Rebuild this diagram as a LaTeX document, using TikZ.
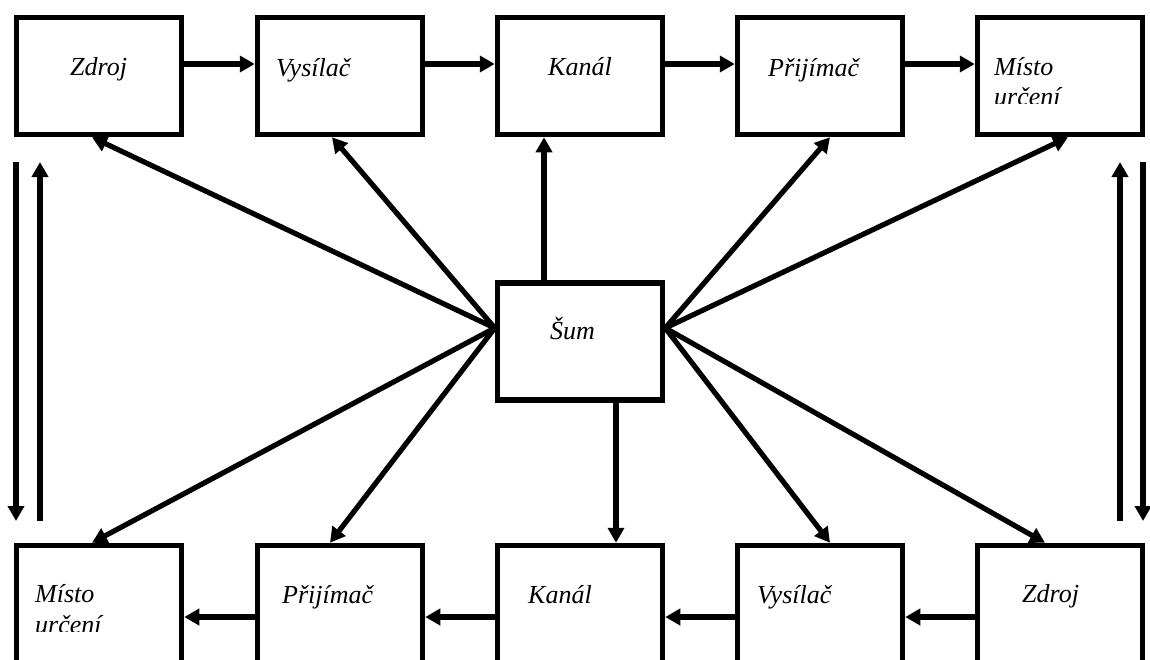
\documentclass[tikz,border=0pt]{standalone}
\usepackage{fontspec}
\setmainfont{Liberation Serif}
\usetikzlibrary{arrows.meta}

\begin{document}
\begin{tikzpicture}[x=1pt,y=-1pt,
  box/.style={draw, line width=5.5pt, rectangle, inner sep=0pt,
              minimum width=165pt, minimum height=117pt},
  lbl/.style={anchor=base west, inner sep=0pt,
              font=\fontsize{26}{30}\selectfont\itshape},
  arr/.style={line width=5.2pt, -{Triangle[length=15pt,width=16pt]}}]

\useasboundingbox (0,0) rectangle (1150,659);
\fill[white] (0,0) rectangle (1150,659);
\clip (0,0) rectangle (1150,659);

% upper chain
\node[box] (z1) at (99,76)  {};
\node[box] (v1) at (340,76) {};
\node[box] (k1) at (580,76) {};
\node[box] (p1) at (820,76) {};
\node[box] (m1) at (1060,76) {};

% lower chain (reversed)
\node[box] (m2) at (99,604)  {};
\node[box] (p2) at (340,604) {};
\node[box] (k2) at (580,604) {};
\node[box] (v2) at (820,604) {};
\node[box] (z2) at (1060,604) {};

% noise source
\node[box] (sum) at (580,341.5) {};

% labels
\node[lbl] (tz1) at (70,75)  {Zdroj};
\node[lbl] (tv1) at (276,76) {Vysílač};
\node[lbl] (tk1) at (548,75) {Kanál};
\node[lbl] (tp1) at (768,76) {Přijímač};
\node[lbl] (tm1) at (994,75) {Místo};
\begin{scope}
  \clip (980,80) rectangle (1140,103);
  \node[lbl] (tu1) at (994,105.5) {určení};
\end{scope}

\node[lbl] (tm2) at (35,602)  {Místo};
\begin{scope}
  \clip (20,608) rectangle (180,631.5);
  \node[lbl] (tu2) at (35,633.5) {určení};
\end{scope}
\node[lbl] (tp2) at (282,603) {Přijímač};
\node[lbl] (tk2) at (528,603) {Kanál};
\node[lbl] (tv2) at (757,603) {Vysílač};
\node[lbl] (tz2) at (1022,602) {Zdroj};

\node[lbl] (ts) at (550,339.5) {Šum};

% chain arrows
\draw[arr] ([yshift=12pt]z1.east) -- ([yshift=12pt]v1.west);
\draw[arr] ([yshift=12pt]v1.east) -- ([yshift=12pt]k1.west);
\draw[arr] ([yshift=12pt]k1.east) -- ([yshift=12pt]p1.west);
\draw[arr] ([yshift=12pt]p1.east) -- ([yshift=12pt]m1.west);

\draw[arr] ([yshift=-13pt]z2.west) -- ([yshift=-13pt]v2.east);
\draw[arr] ([yshift=-13pt]v2.west) -- ([yshift=-13pt]k2.east);
\draw[arr] ([yshift=-13pt]k2.west) -- ([yshift=-13pt]p2.east);
\draw[arr] ([yshift=-13pt]p2.west) -- ([yshift=-13pt]m2.east);

% noise arrows
\coordinate (sl) at ([yshift=13.5pt]sum.west);
\coordinate (sr) at ([yshift=13.5pt]sum.east);
\draw[arr] (sl) -- ([xshift=-7pt]z1.south);
\draw[arr] (sl) -- ([xshift=-8pt]v1.south);
\draw[arr] ([xshift=-36pt]sum.north) -- ([xshift=-36pt]k1.south);
\draw[arr] (sr) -- ([xshift=10pt]p1.south);
\draw[arr] (sr) -- ([xshift=8pt]m1.south);
\draw[arr] (sl) -- ([xshift=-7pt]m2.north);
\draw[arr] (sl) -- ([xshift=-10pt]p2.north);
\draw[arr] ([xshift=36pt]sum.south) -- ([xshift=36pt]k2.north);
\draw[arr] (sr) -- ([xshift=10pt]v2.north);
\draw[arr] (sr) -- ([xshift=-15pt]z2.north);

% side arrows between the chains
\coordinate (la1) at (16,162);
\coordinate (la2) at (16,521);
\coordinate (lb1) at (40,521);
\coordinate (lb2) at (40,162);
\coordinate (ra1) at (1120,521);
\coordinate (ra2) at (1120,162);
\coordinate (rb1) at (1143,162);
\coordinate (rb2) at (1143,521);
\draw[arr] (la1) -- (la2);
\draw[arr] (lb1) -- (lb2);
\draw[arr] (ra1) -- (ra2);
\draw[arr] (rb1) -- (rb2);

\end{tikzpicture}
\end{document}
